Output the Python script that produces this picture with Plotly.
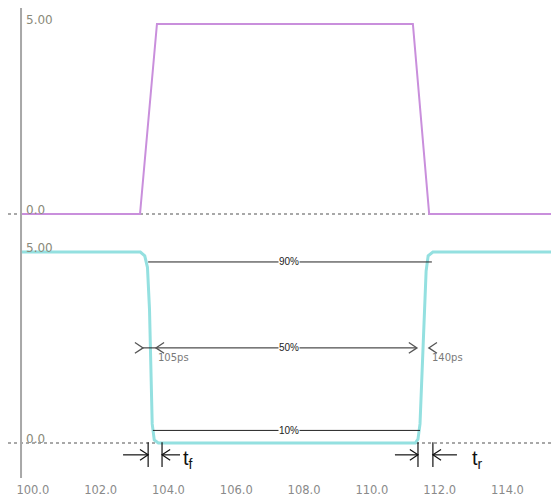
import plotly.graph_objects as go

# ---- data ----
x_top = [99.65, 103.16, 103.66, 111.21, 111.69, 115.52]
y_top = [0, 0, 5, 5, 0, 0]

x_bot = [99.65, 103.17, 103.30, 103.38, 103.44, 103.49, 103.52, 103.58, 103.70,
         111.28, 111.36, 111.42, 111.48, 111.54, 111.60, 111.66, 111.80, 115.52]
y_bot = [5, 5, 4.9, 4.6, 3.5, 1.5, 0.5, 0.08, 0,
         0, 0.1, 0.5, 2.0, 3.5, 4.5, 4.9, 5, 5]

tick_vals = [100, 102, 104, 106, 108, 110, 112, 114]
tick_text = ["100.0", "102.0", "104.0", "106.0", "108.0", "110.0", "112.0", "114.0"]

# level markers (x start, x end, y, label)
pct_lines = [(103.40, 111.77, 4.74, "90%"),
             (103.25, 111.30, 2.49, "50%"),
             (103.54, 111.42, 0.33, "10%")]

X0, X1 = 99.266, 115.52
AXIS_X = 99.65
GRAY = "#a8a8a8"
LBL = "#8a8a7a"
FONT = "Liberation Sans, Arial, sans-serif"
FONT2 = "DejaVu Sans, Verdana, sans-serif"

fig = go.Figure()
fig.add_trace(go.Scatter(x=x_top, y=y_top, mode="lines", yaxis="y",
                         line=dict(color="#c98fdc", width=2), showlegend=False))
fig.add_trace(go.Scatter(x=x_bot, y=y_bot, mode="lines", yaxis="y2",
                         line=dict(color="#94e0e0", width=3), showlegend=False))

shapes = []
# vertical axis line
shapes.append(dict(type="line", xref="x", yref="paper", x0=AXIS_X, x1=AXIS_X,
                   y0=0.0447, y1=1, line=dict(color=GRAY, width=2)))
# dotted zero lines
shapes.append(dict(type="line", xref="x", yref="y", x0=X0, x1=X1, y0=0, y1=0,
                   line=dict(color=GRAY, width=2, dash="dot"), layer="below"))
shapes.append(dict(type="line", xref="x", yref="y2", x0=X0, x1=X1, y0=0, y1=0,
                   line=dict(color=GRAY, width=2, dash="dot"), layer="below"))

annotations = []
for xa, xb, yy, lab in pct_lines:
    shapes.append(dict(type="line", xref="x", yref="y2", x0=xa, x1=xb, y0=yy, y1=yy,
                       line=dict(color="#222", width=1)))
    annotations.append(dict(x=107.55, y=yy, xref="x", yref="y2", text=lab,
                            showarrow=False, font=dict(family=FONT, size=10, color="#222"),
                            bgcolor="white", borderpad=0))

dx = 0.24   # chevron half-length in x
dy = 0.14   # chevron half-height in y

def chev(xv, yv, direction, yref="y2", color="#555", w=1.3):
    # direction +1 : ">" pointing right ; -1 : "<" pointing left
    xa = xv - direction * dx
    return dict(type="path", xref="x", yref=yref,
                path=f"M {xa} {yv + dy} L {xv} {yv} L {xa} {yv - dy}",
                line=dict(color=color, width=w))

# 50% delay markers
y50 = 2.49
shapes += [chev(103.25, y50, 1), chev(103.63, y50, -1),
           chev(111.33, y50, 1), chev(111.68, y50, -1)]
annotations.append(dict(x=103.63, y=y50 - 0.24, xref="x", yref="y2", text="105ps",
                        showarrow=False, xanchor="left",
                        font=dict(family=FONT2, size=10, color="#7a7a7a")))
annotations.append(dict(x=111.70, y=y50 - 0.24, xref="x", yref="y2", text="140ps",
                        showarrow=False, xanchor="left",
                        font=dict(family=FONT2, size=10, color="#7a7a7a")))

# tf / tr markers below the lower trace
ya = -0.31
def tmark(xl, xa, xb, xr):
    out = []
    out.append(dict(type="line", xref="x", yref="y2", x0=xl, x1=xa, y0=ya, y1=ya,
                    line=dict(color="#111", width=1.2)))
    out.append(dict(type="line", xref="x", yref="y2", x0=xb, x1=xr, y0=ya, y1=ya,
                    line=dict(color="#111", width=1.2)))
    for xv in (xa, xb):
        out.append(dict(type="line", xref="x", yref="y2", x0=xv, x1=xv, y0=0.02, y1=-0.63,
                        line=dict(color="#111", width=1.2)))
    out.append(chev(xa, ya, 1, color="#111", w=1.2))
    out.append(chev(xb, ya, -1, color="#111", w=1.2))
    return out

shapes += tmark(102.66, 103.40, 103.81, 104.34)
shapes += tmark(110.68, 111.36, 111.80, 112.51)
annotations.append(dict(x=104.36, y=-0.42, xref="x", yref="y2", text="t<sub>f</sub>",
                        showarrow=False, xanchor="left", yanchor="middle",
                        font=dict(family=FONT, size=20, color="#111")))
annotations.append(dict(x=112.88, y=-0.42, xref="x", yref="y2", text="t<sub>r</sub>",
                        showarrow=False, xanchor="left", yanchor="middle",
                        font=dict(family=FONT, size=20, color="#111")))

# y level labels
for txt, yv, yr in [("5.00", 5, "y"), ("0.0", 0, "y"), ("5.00", 5, "y2"), ("0.0", 0, "y2")]:
    annotations.append(dict(x=99.73, y=yv, xref="x", yref=yr, text=txt, showarrow=False,
                            xanchor="left", yanchor="bottom", yshift=-5,
                            font=dict(family=FONT2, size=12, color=LBL)))

fig.update_layout(
    width=551, height=492,
    margin=dict(l=0, r=0, t=0, b=0),
    paper_bgcolor="white", plot_bgcolor="white",
    xaxis=dict(range=[X0, X1], anchor="free", position=0.0386,
               tickvals=tick_vals, ticktext=tick_text,
               tickfont=dict(family=FONT2, size=11.5, color="#8a8a8a"),
               showgrid=False, zeroline=False, showline=False, ticks="",
               automargin=False),
    yaxis=dict(domain=[0.5488, 1.0], range=[-0.421, 5.421], visible=False, fixedrange=True),
    yaxis2=dict(domain=[0.0, 0.5447], range=[-1.492, 5.524], visible=False, fixedrange=True),
    shapes=shapes, annotations=annotations,
)

fig.write_html("out.html")
